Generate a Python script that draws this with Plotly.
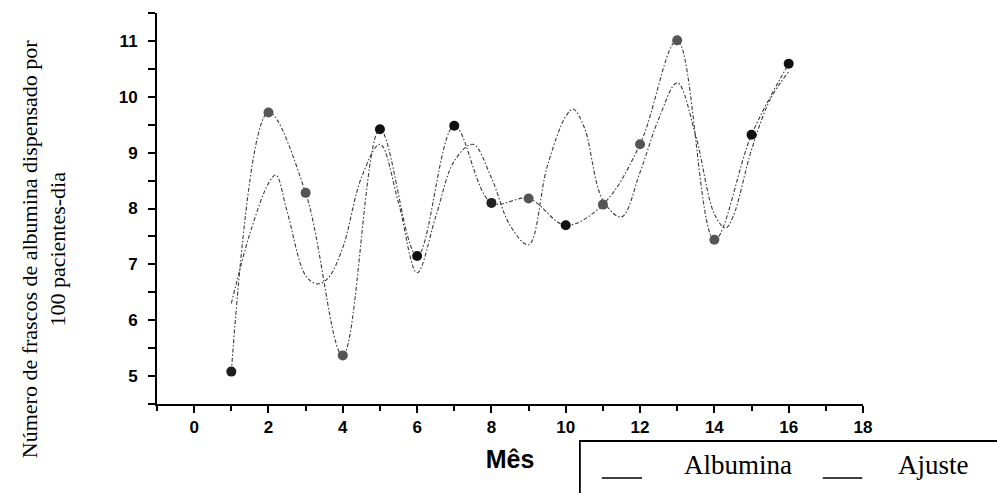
import plotly.graph_objects as go

# Monthly albumin dispensing (vials per 100 patient-days)
meses = [1, 2, 3, 4, 5, 6, 7, 8, 9, 10, 11, 12, 13, 14, 15, 16]
albumina = [5.08, 9.72, 8.28, 5.37, 9.42, 7.15, 9.48, 8.10, 8.18, 7.70, 8.07, 9.15, 11.01, 7.44, 9.32, 10.59]

# Fitted curve (Ajuste), sampled along the month axis
ajuste_x = [1.0, 1.5, 2.0, 2.2, 2.5, 3.0, 3.3, 3.6, 4.0, 4.5, 5.0, 5.5, 6.0, 6.5, 7.0, 7.5,
            8.0, 8.5, 9.0, 9.5, 10.0, 10.2, 10.5, 11.0, 11.5, 12.0, 12.5, 13.0, 13.5, 14.0,
            14.3, 14.5, 15.0, 15.5, 16.0]
ajuste_y = [6.30, 7.55, 8.45, 8.60, 7.95, 6.80, 6.65, 6.75, 7.30, 8.55, 9.15, 8.10, 6.85, 7.85,
            8.85, 9.15, 8.55, 7.70, 7.35, 8.75, 9.65, 9.78, 9.45, 8.15, 7.85, 8.65, 9.60, 10.25,
            9.30, 7.90, 7.65, 7.85, 9.05, 9.95, 10.45]

y_ticks = [5, 6, 7, 8, 9, 10, 11]
x_ticks = [0, 2, 4, 6, 8, 10, 12, 14, 16, 18]

# marker shades (scanned print: some dots grey, some black)
marker_shades = ["#1e1e1e", "#555555", "#555555", "#555555", "#111111", "#111111", "#111111", "#222222",
                 "#555555", "#111111", "#555555", "#555555", "#555555", "#555555", "#111111", "#111111"]

DASH = "4px,2px,1.5px,2px"

fig = go.Figure()
fig.add_trace(go.Scatter(
    x=ajuste_x, y=ajuste_y, mode="lines", name="Ajuste",
    line=dict(color="#3a3a3a", width=1.1, dash=DASH, shape="spline", smoothing=1.0),
    showlegend=False,
))
fig.add_trace(go.Scatter(
    x=meses, y=albumina, mode="lines+markers", name="Albumina",
    line=dict(color="#3a3a3a", width=1.1, dash=DASH, shape="spline", smoothing=1.0),
    marker=dict(size=10, color=marker_shades, line=dict(width=0)),
    showlegend=False,
))

tick_font = dict(family="Liberation Sans, Arial, sans-serif", size=17, color="black", weight="bold")

fig.update_xaxes(
    range=[-1, 18], showline=True, linecolor="black", linewidth=2,
    tickmode="array", tickvals=x_ticks, ticks="outside", ticklen=7, tickwidth=2, tickcolor="black",
    minor=dict(dtick=1, tick0=0, ticks="outside", ticklen=5, tickwidth=2, tickcolor="black"),
    tickfont=tick_font, showgrid=False, zeroline=False,
    title=dict(text="Mês", font=dict(family="Liberation Sans, Arial, sans-serif", size=25,
                                     color="black", weight="bold"), standoff=14),
)
fig.update_yaxes(
    range=[4.5, 11.5], showline=True, linecolor="black", linewidth=2,
    tickmode="array", tickvals=y_ticks, ticks="outside", ticklen=7, tickwidth=2, tickcolor="black",
    minor=dict(dtick=0.5, tick0=0, ticks="outside", ticklen=7, tickwidth=2, tickcolor="black"),
    tickfont=tick_font, showgrid=False, zeroline=False, ticklabelstandoff=7,
)

serif = "Liberation Serif, Times New Roman, serif"

fig.add_annotation(
    text="Número de frascos de albumina dispensado por<br>100 pacientes-dia",
    xref="paper", yref="paper", x=-0.160, y=0.396, xanchor="center", yanchor="middle",
    textangle=-90, showarrow=False, font=dict(family=serif, size=22, color="black"),
)

# legend box, partly running off the right edge
fig.add_shape(type="rect", xref="paper", yref="paper", x0=0.599, x1=1.25, y0=-0.0946, y1=-0.30,
              line=dict(color="black", width=1.8), fillcolor="white", layer="above")
for x0, x1 in [(0.630, 0.687), (0.943, 0.999)]:
    fig.add_shape(type="line", xref="paper", yref="paper", x0=x0, x1=x1, y0=-0.189, y1=-0.189,
                  line=dict(color="black", width=1.5))
fig.add_annotation(text="Albumina", xref="paper", yref="paper", x=0.743, y=-0.156,
                   xanchor="left", yanchor="middle", showarrow=False,
                   font=dict(family=serif, size=27, color="black"))
fig.add_annotation(text="Ajuste", xref="paper", yref="paper", x=1.047, y=-0.156,
                   xanchor="left", yanchor="middle", showarrow=False,
                   font=dict(family=serif, size=27, color="black"))

fig.update_layout(
    width=997, height=493,
    margin=dict(l=157, r=134, t=13, b=89),
    paper_bgcolor="white", plot_bgcolor="white",
)

fig.write_html("out.html")
